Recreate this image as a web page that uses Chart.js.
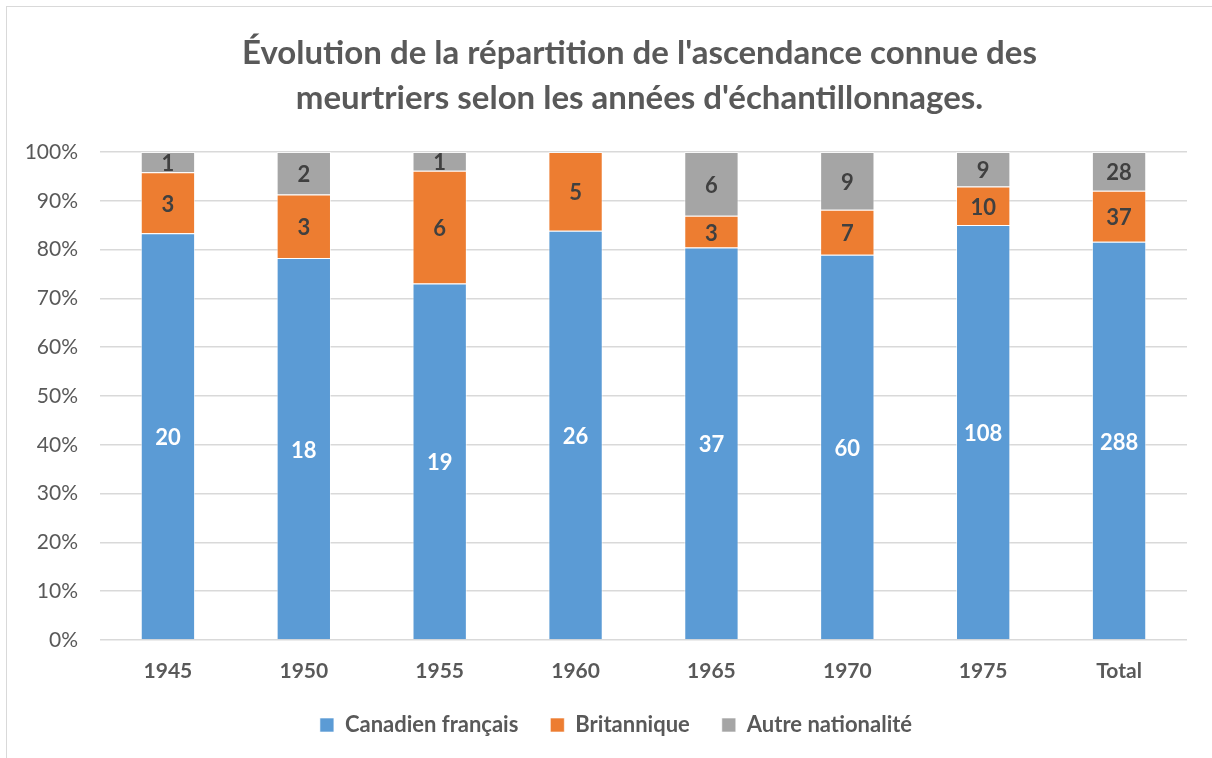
<!DOCTYPE html>
<html>
<head>
<meta charset="utf-8">
<script src="https://cdn.jsdelivr.net/npm/chart.js@4"></script>
<style>
    body { margin: 0; background: #fff; overflow: hidden; }
    #frame { position: absolute; left: 6px; top: 6px; width: 1240px; height: 780px; border: 1px solid #d9d9d9; }
    #mycanvas { position: absolute; left: 0; top: 0; }
</style>
</head>
<body>
<div id="frame"><canvas id="mycanvas" width="1220" height="752"></canvas></div>
<script>
var annees = ["1945", "1950", "1955", "1960", "1965", "1970", "1975", "Total"];
var canadiens = [20, 18, 19, 26, 37, 60, 108, 288];
var britanniques = [3, 3, 6, 5, 3, 7, 10, 37];
var autres = [1, 2, 1, 0, 6, 9, 9, 28];
var titre = ["Évolution de la répartition de l'ascendance connue des", "meurtriers selon les années d'échantillonnages."];

var police = "Lato";
var gris = "#595959";

// 100% empile : on convertit chaque serie en pourcentage du total de l'annee
function pourcent(serie) {
    return serie.map(function (v, i) {
        var tot = canadiens[i] + britanniques[i] + autres[i];
        return v / tot * 100;
    });
}

// etiquettes de valeurs (effectifs bruts) au centre des segments
var etiquettes = {
    id: "etiquettes",
    afterDatasetsDraw: function (chart) {
        var ctx = chart.ctx;
        ctx.save();
        ctx.font = "bold 22px " + police;
        ctx.textAlign = "center";
        ctx.textBaseline = "middle";
        chart.data.datasets.forEach(function (ds, d) {
            var meta = chart.getDatasetMeta(d);
            meta.data.forEach(function (bar, i) {
                var v = ds.brut[i];
                if (!v) return;
                ctx.fillStyle = d === 0 ? "#ffffff" : "#404040";
                ctx.fillText(v, bar.x, (bar.y + bar.base) / 2 + 2);
            });
        });
        ctx.restore();
    }
};

// titre sur deux lignes centre sur la zone du graphique
var titrePlugin = {
    id: "titrePlugin",
    afterDraw: function (chart) {
        var ctx = chart.ctx;
        var cx = (chart.chartArea.left + chart.chartArea.right) / 2 - 4;
        ctx.save();
        ctx.font = "bold 33px " + police;
        ctx.fillStyle = gris;
        ctx.textAlign = "center";
        ctx.textBaseline = "middle";
        ctx.fillText(titre[0], cx, 46);
        ctx.fillText(titre[1], cx, 91);
        ctx.restore();
    }
};

var data = {
    labels: annees,
    datasets: [
        { label: "Canadien français", data: pourcent(canadiens), brut: canadiens, backgroundColor: "#5B9BD5" },
        { label: "Britannique", data: pourcent(britanniques), brut: britanniques, backgroundColor: "#ED7D31" },
        { label: "Autre nationalité", data: pourcent(autres), brut: autres, backgroundColor: "#A5A5A5" }
    ]
};

var options = {
    responsive: false,
    animation: false,
    layout: { padding: { top: 145, right: 2, left: 0, bottom: 13 } },
    datasets: {
        bar: {
            categoryPercentage: 0.4,
            barPercentage: 1,
            borderColor: "rgba(255,255,255,0.6)",
            borderWidth: 1
        }
    },
    scales: {
        x: {
            stacked: true,
            grid: { display: false, drawTicks: false },
            border: { display: false },
            ticks: { color: gris, font: { family: police, size: 21, weight: "bold" }, padding: 19 },
            afterFit: function (scale) { scale.height = 42; }
        },
        y: {
            stacked: true,
            min: 0,
            max: 100,
            ticks: {
                stepSize: 10,
                color: gris,
                padding: 22,
                font: { family: police, size: 21 },
                callback: function (v) { return v + "%"; }
            },
            grid: { color: "#d9d9d9", lineWidth: 1.5, drawTicks: false },
            border: { display: false },
            afterFit: function (scale) { scale.width = 93; }
        },
        // marge droite vide (pour equilibrer la legende)
        marge: {
            type: "linear",
            position: "right",
            ticks: { display: false },
            grid: { display: false, drawTicks: false },
            border: { display: false },
            afterFit: function (scale) { scale.width = 38; }
        }
    },
    plugins: {
        title: { display: false },
        tooltip: { enabled: false },
        legend: {
            display: true,
            position: "bottom",
            labels: {
                color: gris,
                boxWidth: 14,
                boxHeight: 14,
                padding: 32,
                font: { family: police, size: 22, weight: "bold" }
            }
        }
    }
};

var chart = new Chart(document.getElementById("mycanvas"), {
    type: "bar",
    data: data,
    options: options,
    plugins: [etiquettes, titrePlugin]
});
</script>
</body>
</html>
